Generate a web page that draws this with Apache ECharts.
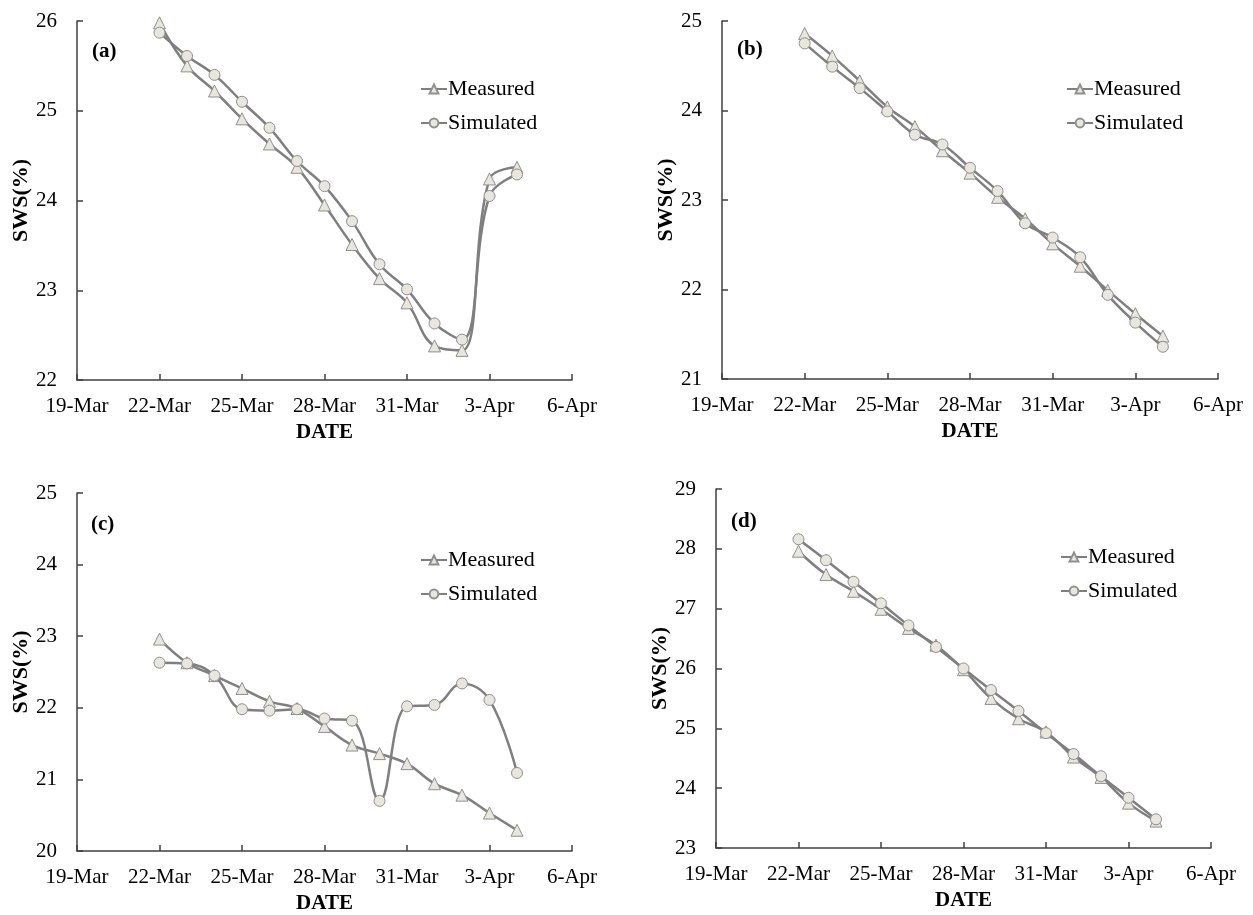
<!DOCTYPE html>
<html>
<head>
<meta charset="utf-8">
<script src="https://cdn.jsdelivr.net/npm/echarts@6/dist/echarts.min.js"></script>
<style>
  html, body { margin: 0; padding: 0; background: #fff; }
  #chart { width: 1253px; height: 915px; }
</style>
</head>
<body>
<div id="chart"></div>
<script>
// ---------- DATA ----------
const dates = ['22-Mar','23-Mar','24-Mar','25-Mar','26-Mar','27-Mar','28-Mar','29-Mar','30-Mar','31-Mar','1-Apr','2-Apr','3-Apr','4-Apr'];
const xTickLabels = ['19-Mar','22-Mar','25-Mar','28-Mar','31-Mar','3-Apr','6-Apr'];
const panelLabels = ['(a)','(b)','(c)','(d)'];

const measuredA  = [25.98,25.50,25.22,24.91,24.63,24.37,23.95,23.51,23.13,22.86,22.38,22.33,24.24,24.37];
const simulatedA = [25.87,25.61,25.40,25.10,24.81,24.44,24.16,23.77,23.29,23.01,22.63,22.45,24.05,24.29];
const yTicksA = [22,23,24,25,26];

const measuredB  = [24.86,24.61,24.33,24.04,23.82,23.55,23.30,23.03,22.79,22.51,22.26,21.99,21.73,21.48];
const simulatedB = [24.75,24.49,24.25,23.99,23.73,23.62,23.36,23.10,22.74,22.58,22.36,21.94,21.63,21.36];
const yTicksB = [21,22,23,24,25];

const measuredC  = [22.96,22.63,22.45,22.27,22.09,21.99,21.74,21.48,21.36,21.22,20.94,20.78,20.53,20.29];
const simulatedC = [22.63,22.62,22.45,21.98,21.96,21.98,21.85,21.82,20.70,22.02,22.04,22.34,22.11,21.09];
const yTicksC = [20,21,22,23,24,25];

const measuredD  = [27.96,27.57,27.29,26.99,26.67,26.39,25.98,25.50,25.16,24.94,24.52,24.18,23.75,23.45];
const simulatedD = [28.16,27.81,27.45,27.09,26.72,26.36,26.00,25.64,25.29,24.92,24.57,24.20,23.84,23.48];
const yTicksD = [23,24,25,26,27,28,29];

const seriesNames = ['Measured','Simulated'];
const xTitle = 'DATE';
const yTitle = 'SWS(%)';

// ---------- BUILD ----------
const monthIdx = {Jan:0,Feb:1,Mar:2,Apr:3,May:4,Jun:5,Jul:6,Aug:7,Sep:8,Oct:9,Nov:10,Dec:11};
function dayNum(s) {
  const [d, m] = s.split('-');
  return Date.UTC(2020, monthIdx[m], +d) / 86400000;
}
const origin = dayNum(xTickLabels[0]);
const xStep = dayNum(xTickLabels[1]) - origin;
const xMax = dayNum(xTickLabels[xTickLabels.length - 1]) - origin;
const xs = dates.map(d => dayNum(d) - origin);

const panels = [
  {m: measuredA, s: simulatedA, yt: yTicksA},
  {m: measuredB, s: simulatedB, yt: yTicksB},
  {m: measuredC, s: simulatedC, yt: yTicksC},
  {m: measuredD, s: simulatedD, yt: yTicksD}
];

const FONT = "'Liberation Serif', 'Times New Roman', serif";
const LINE = '#7f7f7f';
const MFILL = '#e8e6dd';
const MBORDER = '#8f8f8f';
const AXIS = '#404040';

const grids = [
  {left: 77,  top: 21,  width: 495, height: 359},
  {left: 722, top: 21,  width: 496, height: 358},
  {left: 77,  top: 493, width: 495, height: 359},
  {left: 716, top: 489, width: 495, height: 359}
];
const legendPos = [
  {left: 420,  top: 78},
  {left: 1066, top: 78},
  {left: 420,  top: 549},
  {left: 1060, top: 546}
];
const labelPos = [
  {left: 92,  top: 41},
  {left: 737, top: 39},
  {left: 91,  top: 514},
  {left: 731, top: 511}
];

const xAxes = [], yAxes = [], series = [], legends = [], titles = [];
panels.forEach((p, i) => {
  xAxes.push({
    type: 'value', gridIndex: i, min: 0, max: xMax, interval: xStep,
    name: xTitle, nameLocation: 'middle', nameGap: 42,
    nameTextStyle: {fontFamily: FONT, fontSize: 21, fontWeight: 'bold', color: '#000'},
    axisLine: {show: true, lineStyle: {color: AXIS, width: 1.5}},
    axisTick: {show: true, inside: true, length: 6, lineStyle: {color: AXIS, width: 1.5}},
    axisLabel: {
      margin: 16, fontFamily: FONT, fontSize: 21, color: '#000',
      formatter: v => xTickLabels[Math.round(v / xStep)] || ''
    },
    splitLine: {show: false}
  });
  yAxes.push({
    type: 'value', gridIndex: i, min: p.yt[0], max: p.yt[p.yt.length - 1], interval: 1,
    name: yTitle, nameLocation: 'middle', nameGap: 45, nameRotate: 90,
    nameTextStyle: {fontFamily: FONT, fontSize: 22, fontWeight: 'bold', color: '#000'},
    axisLine: {show: true, lineStyle: {color: AXIS, width: 1.5}},
    axisTick: {show: true, inside: true, length: 6, lineStyle: {color: AXIS, width: 1.5}},
    axisLabel: {margin: 20, fontFamily: FONT, fontSize: 21, color: '#000'},
    splitLine: {show: false}
  });
  [[p.m, 'triangle'], [p.s, 'circle']].forEach(([vals, sym], k) => {
    series.push({
      name: seriesNames[k], type: 'line', xAxisIndex: i, yAxisIndex: i,
      data: xs.map((x, j) => [x, vals[j]]),
      smooth: 0.4,
      symbol: sym, symbolSize: sym === 'triangle' ? 12 : 11,
      showAllSymbol: true,
      lineStyle: {color: LINE, width: 2.5},
      itemStyle: {color: MFILL, borderColor: MBORDER, borderWidth: 1},
      emphasis: {disabled: true},
      z: 2 + k,
      animation: false
    });
  });
  legends.push({
    data: seriesNames, orient: 'vertical', padding: 0,
    left: legendPos[i].left, top: legendPos[i].top,
    itemWidth: 26, itemHeight: 11, itemGap: 12,
    textStyle: {fontFamily: FONT, fontSize: 22, color: '#000', padding: [0, 0, 0, -4]},
    selectedMode: false
  });
  titles.push({
    text: panelLabels[i], left: labelPos[i].left, top: labelPos[i].top, padding: 0,
    textStyle: {fontFamily: FONT, fontSize: 21, fontWeight: 'bold', color: '#000'}
  });
});

const chart = echarts.init(document.getElementById('chart'), null, {renderer: 'canvas'});
chart.setOption({
  backgroundColor: '#fff',
  animation: false,
  title: titles,
  grid: grids,
  xAxis: xAxes,
  yAxis: yAxes,
  legend: legends,
  series: series
});
</script>
</body>
</html>
